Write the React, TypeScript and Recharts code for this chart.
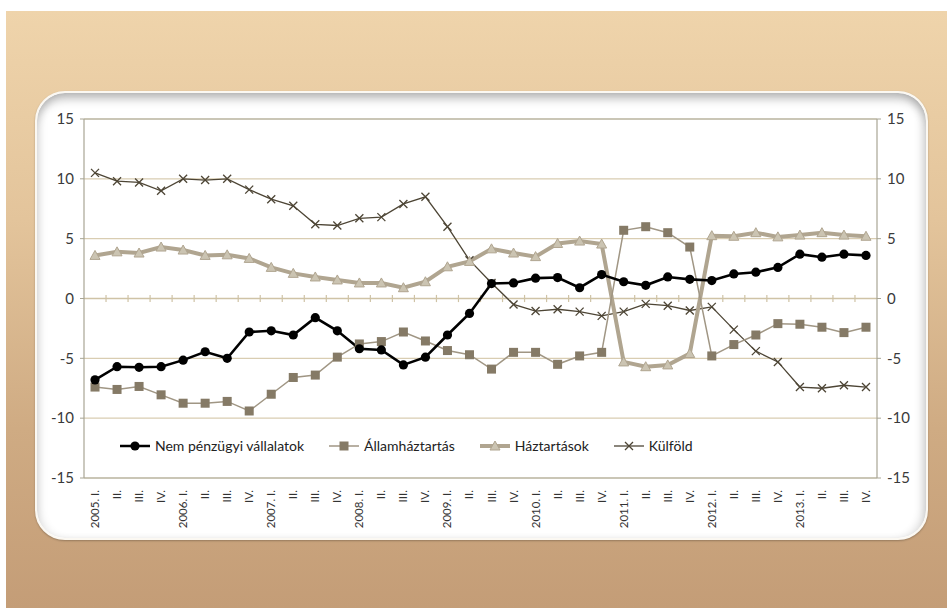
import { LineChart, Line, XAxis, YAxis, CartesianGrid, ReferenceLine } from "recharts";

const quarters = [
  "2005. I.", "II.", "III.", "IV.",
  "2006. I.", "II.", "III.", "IV.",
  "2007. I.", "II.", "III.", "IV.",
  "2008. I.", "II.", "III.", "IV.",
  "2009. I.", "II.", "III.", "IV.",
  "2010. I.", "II.", "III.", "IV.",
  "2011. I.", "II.", "III.", "IV.",
  "2012. I.", "II.", "III.", "IV.",
  "2013. I.", "II.", "III.", "IV.",
];

const nemPenzugyi = [
  -6.8, -5.7, -5.75, -5.7, -5.15, -4.45, -5.0, -2.8, -2.7, -3.05, -1.6, -2.7,
  -4.2, -4.3, -5.55, -4.9, -3.05, -1.25, 1.25, 1.3, 1.7, 1.75, 0.9, 2.0,
  1.4, 1.1, 1.8, 1.6, 1.5, 2.05, 2.2, 2.6, 3.7, 3.45, 3.7, 3.6,
];
const allamhaztartas = [
  -7.4, -7.6, -7.35, -8.05, -8.75, -8.75, -8.6, -9.4, -8.0, -6.6, -6.4, -4.9,
  -3.8, -3.6, -2.8, -3.55, -4.35, -4.7, -5.9, -4.5, -4.5, -5.5, -4.8, -4.5,
  5.7, 6.0, 5.5, 4.3, -4.8, -3.85, -3.05, -2.1, -2.15, -2.4, -2.85, -2.4,
];
const haztartasok = [
  3.6, 3.9, 3.8, 4.3, 4.05, 3.6, 3.65, 3.35, 2.6, 2.1, 1.8, 1.55,
  1.3, 1.3, 0.9, 1.4, 2.65, 3.1, 4.15, 3.8, 3.5, 4.6, 4.8, 4.55,
  -5.3, -5.7, -5.55, -4.6, 5.25, 5.2, 5.5, 5.15, 5.3, 5.5, 5.3, 5.2,
];
const kulfold = [
  10.5, 9.8, 9.7, 9.0, 10.0, 9.9, 10.0, 9.1, 8.3, 7.75, 6.2, 6.1,
  6.7, 6.8, 7.9, 8.5, 6.0, 3.2, 1.3, -0.5, -1.05, -0.9, -1.1, -1.45,
  -1.1, -0.45, -0.6, -1.0, -0.7, -2.6, -4.4, -5.3, -7.4, -7.5, -7.25, -7.4,
];

const yTicks = [-15, -10, -5, 0, 5, 10, 15];

const data = quarters.map((q, i) => ({
  i,
  q,
  nem: nemPenzugyi[i],
  allam: allamhaztartas[i],
  haz: haztartasok[i],
  kul: kulfold[i],
}));

const FONT = "Lato, 'Open Sans', sans-serif";
const C_NEM = "#000000";
const C_ALLAM = "#a09684";
const C_ALLAM_MK = "#857a66";
const C_HAZ = "#b0a590";
const C_HAZ_MK = "#cbc4b2";
const C_KUL = "#4d4535";
const C_AXIS = "#a8a594";

const circleDot = (p: any) => (
  <circle key={`c-${p.index}`} cx={p.cx} cy={p.cy} r={4.6} fill={C_NEM} />
);
const squareDot = (p: any) => (
  <rect key={`s-${p.index}`} x={p.cx - 4.5} y={p.cy - 4.5} width={9} height={9} fill={C_ALLAM_MK} />
);
const triDot = (p: any) => (
  <polygon
    key={`t-${p.index}`}
    points={`${p.cx},${p.cy - 5} ${p.cx - 5},${p.cy + 4} ${p.cx + 5},${p.cy + 4}`}
    fill={C_HAZ_MK}
    stroke={C_HAZ}
    strokeWidth={1}
  />
);
const crossDot = (p: any) => (
  <path
    key={`x-${p.index}`}
    d={`M${p.cx - 4},${p.cy - 4}L${p.cx + 4},${p.cy + 4}M${p.cx - 4},${p.cy + 4}L${p.cx + 4},${p.cy - 4}`}
    stroke={C_KUL}
    strokeWidth={1.3}
  />
);

const XTick = (props: any) => {
  const { x, y, payload } = props;
  return (
    <g transform={`translate(${x},${y})`}>
      <text
        transform="rotate(-90)"
        x={-4}
        y={4}
        textAnchor="end"
        fontSize={11.5}
        fontFamily={FONT}
        fill="#333"
      >
        {quarters[payload.value]}
      </text>
    </g>
  );
};

const legendItems = [
  { name: "Nem pénzügyi vállalatok", kind: "circle", color: C_NEM, w: 2.5 },
  { name: "Államháztartás", kind: "square", color: C_ALLAM, w: 1.5 },
  { name: "Háztartások", kind: "tri", color: C_HAZ, w: 4 },
  { name: "Külföld", kind: "cross", color: C_KUL, w: 1.3 },
];

const LegendBox = () => (
  <div
    style={{
      position: "absolute",
      left: 119,
      top: 437,
      display: "flex",
      alignItems: "center",
      fontFamily: FONT,
      fontSize: 14,
      color: "#222",
      whiteSpace: "nowrap",
    }}
  >
    {legendItems.map((it) => (
      <div key={it.name} style={{ display: "flex", alignItems: "center", marginRight: 24 }}>
        <svg width={32} height={14} style={{ marginRight: 4 }}>
          <line x1={1} y1={7} x2={31} y2={7} stroke={it.color} strokeWidth={it.w} />
          {it.kind === "circle" && <circle cx={16} cy={7} r={4.6} fill={C_NEM} />}
          {it.kind === "square" && <rect x={11.5} y={2.5} width={9} height={9} fill={C_ALLAM_MK} />}
          {it.kind === "tri" && (
            <polygon points="16,2 11,11 21,11" fill={C_HAZ_MK} stroke={C_HAZ} strokeWidth={1} />
          )}
          {it.kind === "cross" && (
            <path d="M12,3L20,11M12,11L20,3" stroke={C_KUL} strokeWidth={1.3} />
          )}
        </svg>
        <span>{it.name}</span>
      </div>
    ))}
  </div>
);

export default function App() {
  return (
    <div
      style={{
        position: "absolute",
        left: 0,
        top: 0,
        width: 947,
        height: 608,
        background: "#ffffff",
        overflow: "hidden",
      }}
    >
      <div
        style={{
          position: "absolute",
          left: 6,
          top: 11,
          width: 941,
          height: 597,
          background: "linear-gradient(180deg, #efd4ab 0%, #e3c49b 35%, #cfab83 70%, #c49d77 100%)",
        }}
      />
      <div
        style={{
          position: "absolute",
          left: 35,
          top: 91,
          width: 893,
          height: 449,
          boxSizing: "border-box",
          borderRadius: 30,
          background: "#ffffff",
          border: "2px solid #fbf8f2",
          boxShadow:
            "inset 0 9px 10px -3px rgba(0,0,0,0.25), inset -7px 0 9px -3px rgba(0,0,0,0.14), inset 6px 0 8px -3px rgba(0,0,0,0.1), 0 1px 2px rgba(0,0,0,0.25)",
        }}
      />
      <div style={{ position: "absolute", left: 0, top: 0 }}>
        <LineChart
          width={947}
          height={608}
          data={data}
          margin={{ top: 119, right: 20, bottom: 70, left: 34 }}
        >
          <CartesianGrid yAxisId="left" horizontal vertical={false} stroke="#d9cdb2" strokeWidth={1.2} />
          <XAxis
            dataKey="i"
            type="number"
            domain={[-0.5, 35.5]}
            ticks={quarters.map((_, i) => i)}
            interval={0}
            tick={<XTick />}
            tickLine={false}
            axisLine={{ stroke: C_AXIS, strokeWidth: 1.2 }}
            height={60}
          />
          <YAxis
            yAxisId="left"
            domain={[-15, 15]}
            ticks={yTicks}
            width={50}
            tick={{ fontSize: 15, fill: "#3a3a3a", fontFamily: FONT }}
            tickLine={{ stroke: C_AXIS }}
            tickSize={4}
            tickMargin={6}
            axisLine={{ stroke: C_AXIS, strokeWidth: 1.2 }}
          />
          <YAxis
            yAxisId="right"
            orientation="right"
            domain={[-15, 15]}
            ticks={yTicks}
            width={50}
            tick={{ fontSize: 15, fill: "#3a3a3a", fontFamily: FONT }}
            tickLine={{ stroke: C_AXIS }}
            tickSize={4}
            tickMargin={6}
            axisLine={{ stroke: C_AXIS, strokeWidth: 1.2 }}
          />
          <ReferenceLine yAxisId="left" y={15} stroke={C_AXIS} strokeWidth={1.2} />
          <ReferenceLine yAxisId="left" y={0} stroke="#cfc3a6" strokeWidth={1.5} />
          {quarters.slice(1).map((_, k) => (
            <ReferenceLine
              key={`b-${k}`}
              yAxisId="left"
              segment={[
                { x: k + 0.5, y: 0.3 },
                { x: k + 0.5, y: -0.3 },
              ]}
              stroke="#cfc3a6"
              strokeWidth={1.2}
            />
          ))}
          <Line
            yAxisId="left"
            dataKey="kul"
            name="Külföld"
            stroke={C_KUL}
            strokeWidth={1.3}
            dot={crossDot}
            activeDot={false}
            isAnimationActive={false}
          />
          <Line
            yAxisId="right"
            dataKey="haz"
            name="Háztartások"
            stroke={C_HAZ}
            strokeWidth={4}
            dot={triDot}
            activeDot={false}
            isAnimationActive={false}
          />
          <Line
            yAxisId="left"
            dataKey="allam"
            name="Államháztartás"
            stroke={C_ALLAM}
            strokeWidth={1.5}
            dot={squareDot}
            activeDot={false}
            isAnimationActive={false}
          />
          <Line
            yAxisId="left"
            dataKey="nem"
            name="Nem pénzügyi vállalatok"
            stroke={C_NEM}
            strokeWidth={2.6}
            dot={circleDot}
            activeDot={false}
            isAnimationActive={false}
          />
        </LineChart>
      </div>
      <LegendBox />
    </div>
  );
}
